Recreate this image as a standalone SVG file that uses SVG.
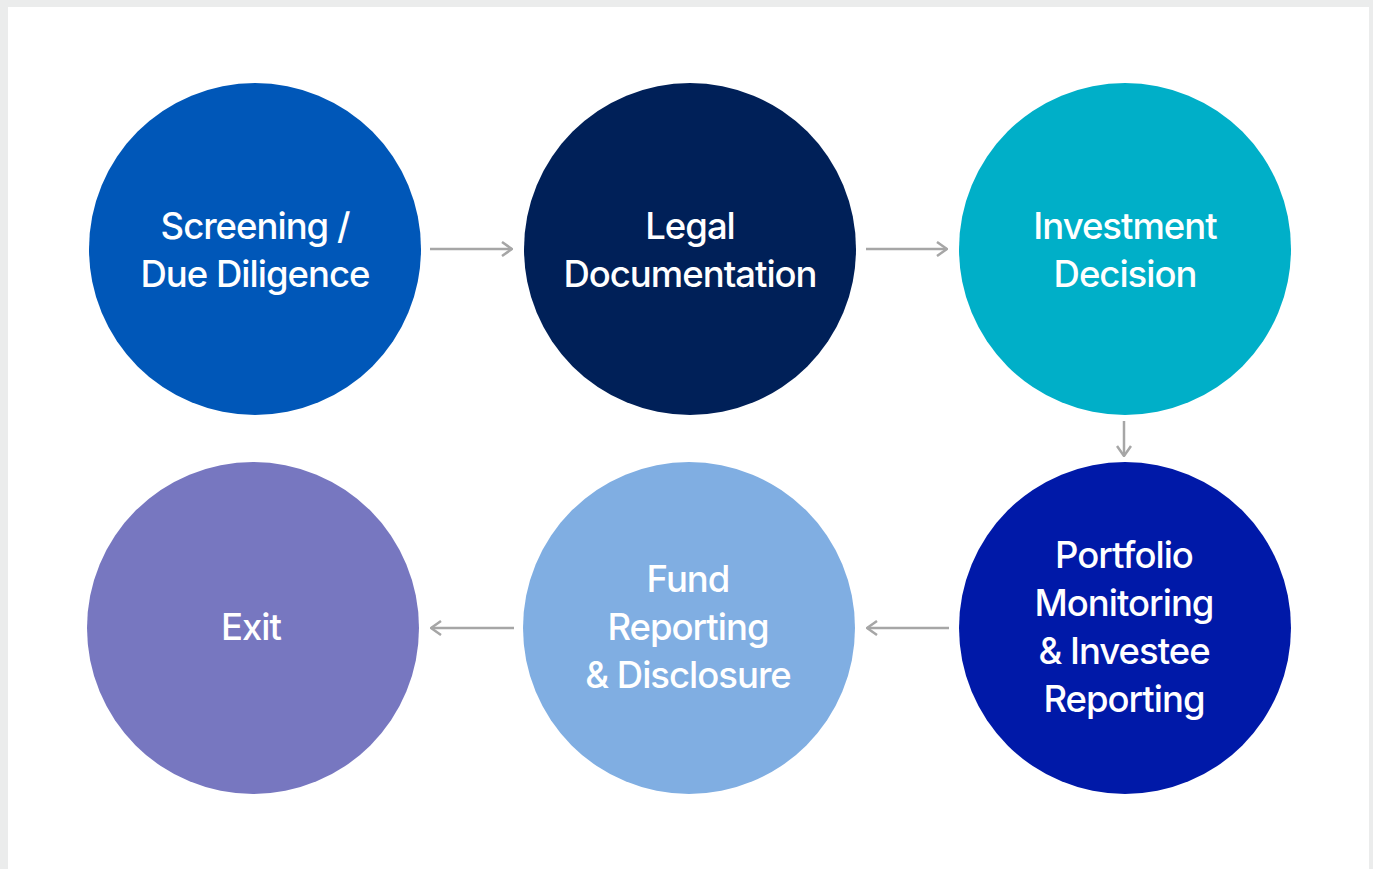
<svg xmlns="http://www.w3.org/2000/svg" width="1373" height="869" viewBox="0 0 1373 869">
<defs>
<style>
.lbl{font-family:Inter,"Noto Sans",sans-serif;font-size:36.5px;font-weight:500;fill:#ffffff;text-anchor:middle;letter-spacing:-1px}
.con{stroke:#a6a6a6;stroke-width:2.5;fill:none}
</style>
<marker id="ah" viewBox="0 0 12 16" refX="11" refY="8" markerWidth="12" markerHeight="16" markerUnits="userSpaceOnUse" orient="auto">
<path d="M1,1 L11,8 L1,15" fill="none" stroke="#a6a6a6" stroke-width="2.5"/>
</marker>
</defs>
<rect x="0" y="0" width="1373" height="869" fill="#ebecec"/>
<rect x="8" y="7" width="1361" height="862" fill="#ffffff"/>
<g id="connectors">
<line class="con" x1="430" y1="249" x2="512" y2="249" marker-end="url(#ah)"/>
<line class="con" x1="866" y1="249" x2="947" y2="249" marker-end="url(#ah)"/>
<line class="con" x1="1124" y1="421" x2="1124" y2="456" marker-end="url(#ah)"/>
<line class="con" x1="949" y1="628" x2="867" y2="628" marker-end="url(#ah)"/>
<line class="con" x1="514" y1="628" x2="431" y2="628" marker-end="url(#ah)"/>
</g>
<g id="n1"><circle cx="255" cy="249" r="166" fill="#0057b8"/>
<text class="lbl" x="255" y="239">Screening /</text><text class="lbl" x="255" y="287">Due Diligence</text></g>
<g id="n2"><circle cx="690" cy="249" r="166" fill="#002058"/>
<text class="lbl" x="690" y="239">Legal</text><text class="lbl" x="690" y="287">Documentation</text></g>
<g id="n3"><circle cx="1125" cy="249" r="166" fill="#00afc8"/>
<text class="lbl" x="1125" y="239">Investment</text><text class="lbl" x="1125" y="287">Decision</text></g>
<g id="n4"><circle cx="1125" cy="628" r="166" fill="#0019a8"/>
<text class="lbl" x="1124" y="568">Portfolio</text><text class="lbl" x="1124" y="616">Monitoring</text><text class="lbl" x="1124" y="664">&amp; Investee</text><text class="lbl" x="1124" y="712">Reporting</text></g>
<g id="n5"><circle cx="689" cy="628" r="166" fill="#80aee2"/>
<text class="lbl" x="688" y="592">Fund</text><text class="lbl" x="688" y="640">Reporting</text><text class="lbl" x="688" y="688">&amp; Disclosure</text></g>
<g id="n6"><circle cx="253" cy="628" r="166" fill="#7777c0"/>
<text class="lbl" x="251" y="640">Exit</text></g>
</svg>
